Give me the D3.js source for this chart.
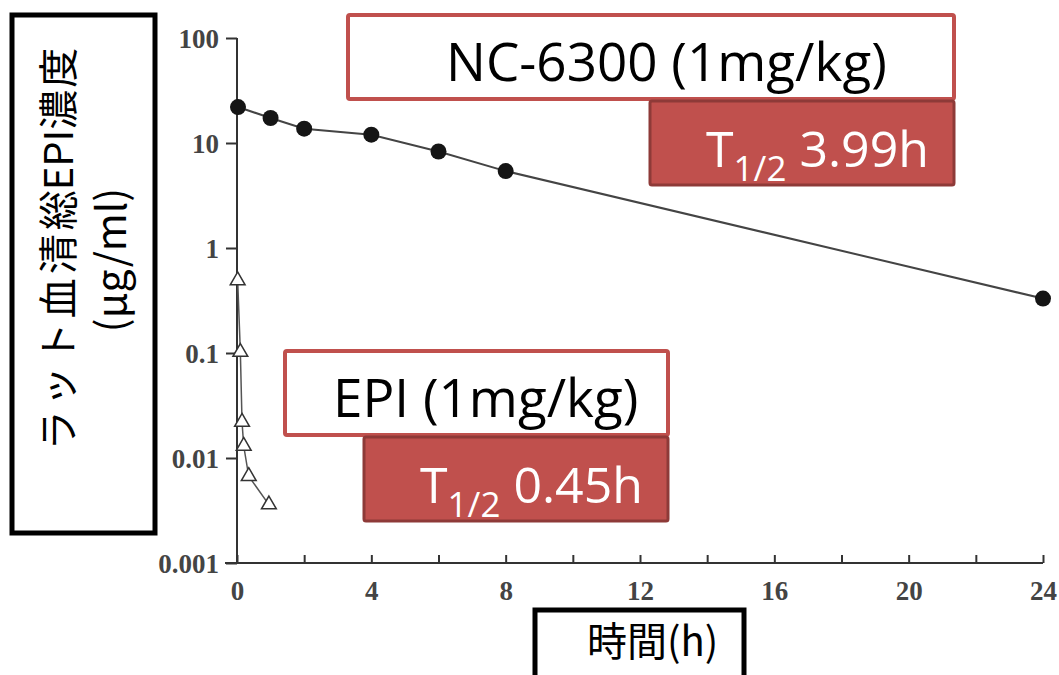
<!DOCTYPE html>
<html>
	<head>
		<meta charset="utf-8">
		<script src="https://cdnjs.cloudflare.com/ajax/libs/d3/7.8.5/d3.min.js"></script>
		<title>EPI / NC-6300</title>
		<style type="text/css">
			body {
				margin: 0;
				background: #fff;
			}
			svg {
				display: block;
			}
			.tick text {
				font-family: 'Liberation Serif', serif;
				font-size: 27px;
				font-weight: bold;
				fill: #444;
			}
			.jp {
				font-family: 'Noto Sans CJK JP', 'Noto Sans', sans-serif;
			}
		</style>
	</head>
	<body>
		<script type="application/javascript">
			// NC-6300 (filled circles)
			var ncTime = [0.03, 1, 2, 4, 6, 8, 24];
			var ncConc = [22, 17.3, 13.7, 12.0, 8.3, 5.4, 0.33];
			// EPI (open triangles)
			var epiTime = [0.02, 0.1, 0.15, 0.2, 0.35, 0.95];
			var epiConc = [0.49, 0.102, 0.022, 0.013, 0.0067, 0.0036];

			var yTicks = [0.001, 0.01, 0.1, 1, 10, 100];
			var yTickLabels = ["0.001", "0.01", "0.1", "1", "10", "100"];
			var xTicks = [0, 2, 4, 6, 8, 10, 12, 14, 16, 18, 20, 22, 24];

			var width = 1059, height = 675;
			var red = "#c0504d", redDark = "#8e3a38", ink = "#333";

			var svg = d3.select("body").append("svg")
				.attr("width", width)
				.attr("height", height);

			var x = d3.scaleLinear().domain([0, 24]).range([237, 1043]);
			var y = d3.scaleLog().domain([0.001, 100]).range([563, 38]);

			// y axis
			svg.append("g")
				.attr("transform", "translate(" + x(0) + ",0)")
				.call(d3.axisLeft(y)
					.tickValues(yTicks)
					.tickFormat((d, i) => yTickLabels[i])
					.tickSizeInner(11)
					.tickSizeOuter(0)
					.tickPadding(7))
				.call(g => g.select(".domain").remove())
				.call(g => g.selectAll(".tick line").attr("stroke", ink).attr("stroke-width", 2))
				.call(g => g.selectAll(".tick text").attr("dy", "0.36em"));

			svg.append("line")
				.attr("x1", x(0)).attr("x2", x(0))
				.attr("y1", y(100)).attr("y2", y(0.001))
				.attr("stroke", ink).attr("stroke-width", 2);

			// x axis, ticks point inward
			svg.append("g")
				.attr("transform", "translate(0," + y(0.001) + ")")
				.call(d3.axisBottom(x)
					.tickValues(xTicks)
					.tickFormat(d => d % 4 === 0 ? d : "")
					.tickSizeInner(-8)
					.tickSizeOuter(0)
					.tickPadding(18))
				.call(g => g.select(".domain").remove())
				.call(g => g.selectAll(".tick line").attr("stroke", ink).attr("stroke-width", 2));

			svg.append("line")
				.attr("x1", x(0) - 12).attr("x2", x(24))
				.attr("y1", y(0.001)).attr("y2", y(0.001))
				.attr("stroke", ink).attr("stroke-width", 2);

			// series lines
			var line = d3.line()
				.x(d => x(d[0]))
				.y(d => y(d[1]));

			var nc = ncTime.map((t, i) => [t, ncConc[i]]);
			var epi = epiTime.map((t, i) => [t, epiConc[i]]);

			svg.append("path")
				.datum(epi)
				.attr("d", line)
				.attr("fill", "none")
				.attr("stroke", "#555")
				.attr("stroke-width", 1.5);

			svg.append("path")
				.datum(nc)
				.attr("d", line)
				.attr("fill", "none")
				.attr("stroke", "#444")
				.attr("stroke-width", 2);

			svg.selectAll("path.tri")
				.data(epi)
				.enter().append("path")
				.attr("class", "tri")
				.attr("d", d3.symbol().type(d3.symbolTriangle).size(95))
				.attr("transform", d => "translate(" + x(d[0]) + "," + y(d[1]) + ")")
				.attr("fill", "#fff")
				.attr("stroke", ink)
				.attr("stroke-width", 1.5);

			svg.selectAll("circle.nc")
				.data(nc)
				.enter().append("circle")
				.attr("class", "nc")
				.attr("cx", d => x(d[0]))
				.attr("cy", d => y(d[1]))
				.attr("r", 8)
				.attr("fill", "#151515");

			// axis title boxes
			svg.append("rect")
				.attr("x", 12).attr("y", 15)
				.attr("width", 143).attr("height", 518)
				.attr("fill", "#fff")
				.attr("stroke", "#000")
				.attr("stroke-width", 5);

			var yl = svg.append("text")
				.attr("class", "jp")
				.attr("transform", "translate(58,248) rotate(-90)")
				.attr("text-anchor", "middle")
				.attr("font-size", 40)
				.attr("fill", "#000");
			yl.append("tspan").attr("x", 0).attr("y", 15)
				.attr("letter-spacing", 4).text("ラット血清");
			yl.append("tspan").text("総EPI");
			yl.append("tspan").attr("letter-spacing", 2).text("濃度");
			yl.append("tspan").attr("x", -12).attr("y", 68).attr("font-size", 41).text("(μg/ml)");

			svg.append("rect")
				.attr("x", 535).attr("y", 610)
				.attr("width", 209).attr("height", 90)
				.attr("fill", "#fff")
				.attr("stroke", "#000")
				.attr("stroke-width", 5);

			svg.append("text")
				.attr("class", "jp")
				.attr("x", 587).attr("y", 656)
				.attr("font-size", 40)
				.attr("fill", "#000")
				.text("時間(h)");

			// drug label boxes
			function drugBox(bx, by, bw, name, tx, half, hx) {
				svg.append("rect")
					.attr("x", bx).attr("y", by)
					.attr("width", bw).attr("height", 84)
					.attr("fill", "#fff")
					.attr("stroke", red)
					.attr("stroke-width", 4)
					.attr("rx", 2);
				svg.append("text")
					.attr("x", tx).attr("y", by + 66)
					.attr("font-family", "'Open Sans', 'Noto Sans', sans-serif")
					.attr("font-size", 53)
					.attr("fill", "#000")
					.text(name);
				var rx0 = bx + bw - 304;
				svg.append("rect")
					.attr("x", rx0).attr("y", by + 86)
					.attr("width", 304).attr("height", 84)
					.attr("fill", red)
					.attr("stroke", redDark)
					.attr("stroke-width", 3)
					.attr("rx", 2);
				var t = svg.append("text")
					.attr("x", hx).attr("y", by + 152)
					.attr("font-family", "'Open Sans', 'Noto Sans', sans-serif")
					.attr("font-size", 50)
					.attr("fill", "#fff");
				t.append("tspan").text("T");
				t.append("tspan").attr("font-size", 35).attr("dy", 14).text("1/2");
				t.append("tspan").attr("dy", -14).text(" " + half);
			}

			drugBox(348, 15, 606, "NC-6300 (1mg/kg)", 446, "3.99h", 706);
			drugBox(285, 351, 383, "EPI (1mg/kg)", 333, "0.45h", 420);
		</script>
	</body>
</html>
